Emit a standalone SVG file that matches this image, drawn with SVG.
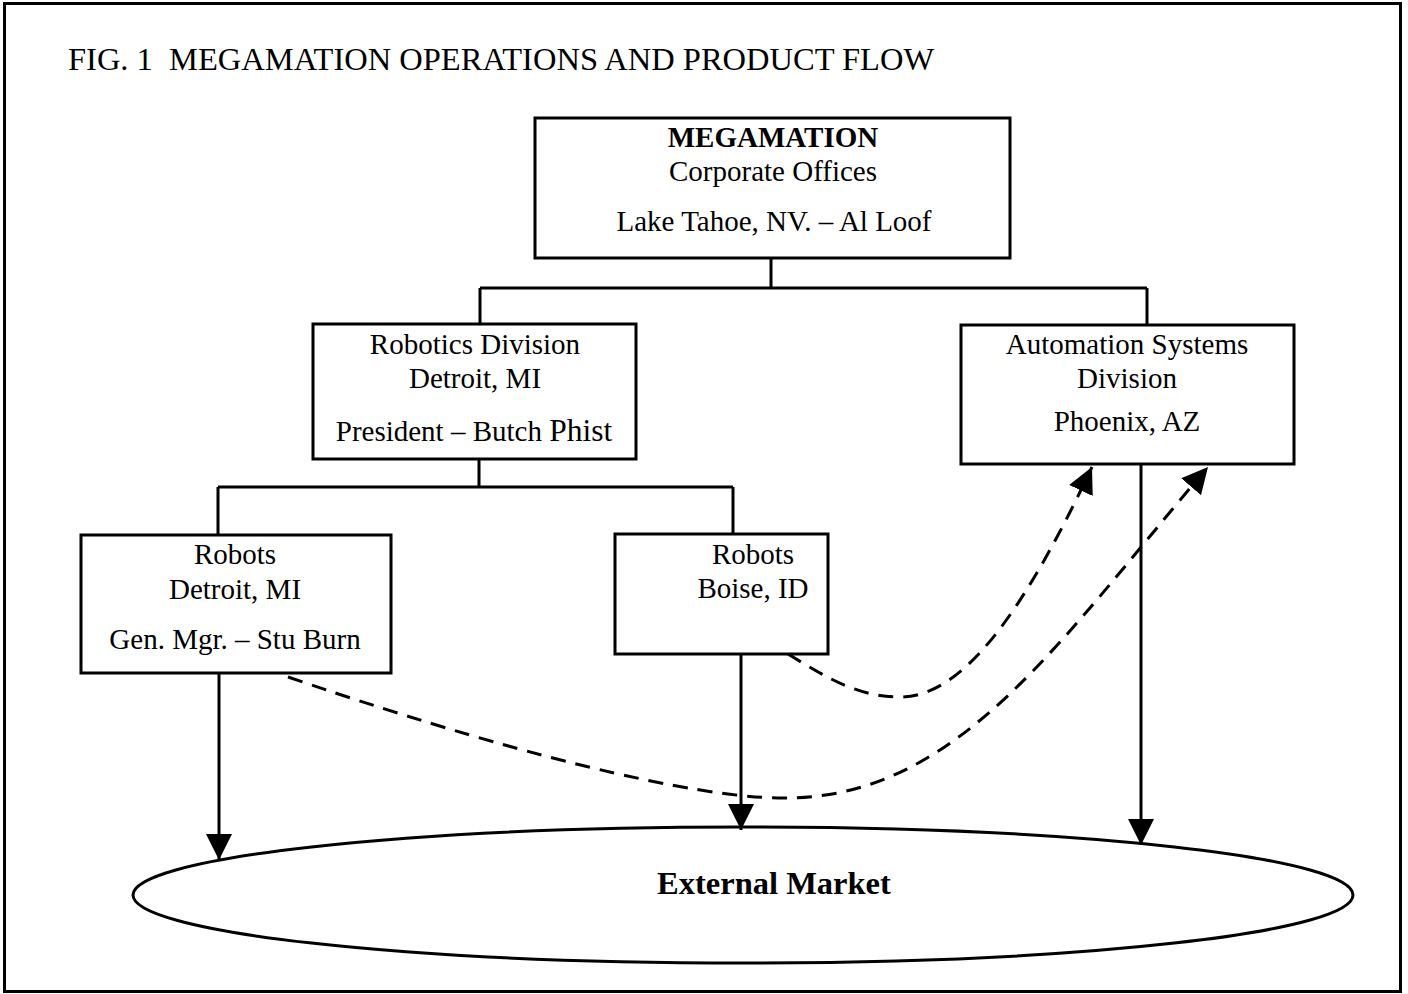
<svg xmlns="http://www.w3.org/2000/svg" width="1408" height="994" viewBox="0 0 1408 994">
  <style>
    text { font-family: "Liberation Serif", "Times New Roman", serif; font-size: 29px; fill: #000; }
    .c { text-anchor: middle; }
    .b { font-weight: bold; }
    .big { font-size: 32.5px; }
    .box { fill: #fff; stroke: #000; stroke-width: 3; }
    .tree { fill: none; stroke: #000; stroke-width: 3; }
    .flow { fill: none; stroke: #000; stroke-width: 3; }
    .dash { fill: none; stroke: #000; stroke-width: 3; stroke-dasharray: 15 10; }
    .head { fill: #000; stroke: none; }
  </style>
  <defs>
    <marker id="arrow" markerUnits="userSpaceOnUse" markerWidth="26" markerHeight="26" refX="26" refY="13" orient="auto">
      <path class="head" d="M0,0 L26,13 L0,26 Z"/>
    </marker>
  </defs>

  <rect width="1408" height="994" fill="#fff"/>
  <rect x="4.5" y="3.5" width="1396" height="988" fill="none" stroke="#000" stroke-width="3"/>

  <text class="big" x="68" y="70" xml:space="preserve">FIG. 1  MEGAMATION OPERATIONS AND PRODUCT FLOW</text>

  <g id="connectors">
    <!-- reporting lines -->
    <path class="tree" d="M771,258 V288 M480,288 H1147 M480,288 V324 M1147,288 V325"/>
    <path class="tree" d="M479,459 V487 M218,487 H733 M218,487 V535 M733,487 V534"/>
    <!-- product flow to market -->
    <path class="flow" d="M219,673 V860" marker-end="url(#arrow)"/>
    <path class="flow" d="M741,654 V830" marker-end="url(#arrow)"/>
    <path class="flow" d="M1141,464 V845" marker-end="url(#arrow)"/>
    <!-- internal supply to Automation Systems -->
    <path class="dash" d="M288,677 C560,770 720,800 790,798 C960,795 1060,640 1208,467" marker-end="url(#arrow)"/>
    <path class="dash" d="M788,654 C830,680 860,697 900,697 C960,697 1020,620 1092,467" marker-end="url(#arrow)"/>
  </g>

  <g id="corporate">
    <rect class="box" x="535" y="118" width="475" height="140"/>
    <text class="c b" x="773" y="147">MEGAMATION</text>
    <text class="c" x="773" y="181">Corporate Offices</text>
    <text class="c" x="774" y="231">Lake Tahoe, NV. – Al Loof</text>
  </g>

  <g id="robotics-division">
    <rect class="box" x="313" y="324" width="323" height="135"/>
    <text class="c" x="475" y="354">Robotics Division</text>
    <text class="c" x="475" y="388">Detroit, MI</text>
    <text class="c" x="474" y="441">President – Butch <tspan font-size="31.5">Phist</tspan></text>
  </g>

  <g id="automation-division">
    <rect class="box" x="961" y="325" width="333" height="139"/>
    <text class="c" x="1127" y="354">Automation Systems</text>
    <text class="c" x="1127" y="388">Division</text>
    <text class="c" x="1127" y="431">Phoenix, AZ</text>
  </g>

  <g id="robots-detroit">
    <rect class="box" x="81" y="535" width="310" height="138"/>
    <text class="c" x="235" y="564">Robots</text>
    <text class="c" x="235" y="599">Detroit, MI</text>
    <text class="c" x="235" y="649">Gen. Mgr. – Stu Burn</text>
  </g>

  <g id="robots-boise">
    <rect class="box" x="615" y="534" width="213" height="120"/>
    <text class="c" x="753" y="564">Robots</text>
    <text class="c" x="753" y="598">Boise, ID</text>
  </g>

  <g id="external-market">
    <ellipse cx="743" cy="895" rx="610" ry="68" fill="none" stroke="#000" stroke-width="3"/>
    <text class="c b big" x="774" y="894">External Market</text>
  </g>
</svg>
